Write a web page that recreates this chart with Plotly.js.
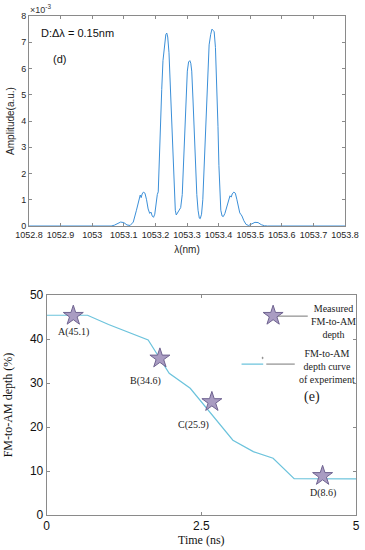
<!DOCTYPE html>
<html><head><meta charset="utf-8">
<script src="https://cdn.plot.ly/plotly-3.0.1.min.js"></script>
<style>html,body{margin:0;padding:0;background:#fff;}#chart{width:365px;height:550px;}</style>
</head><body><div id="chart"></div>
<script>
// ---- (d) spectrum: wavelength (nm) and amplitude (x1e-3 a.u.) ----
const wavelength = [1052.8,1053.06,1053.07,1053.08,1053.09,1053.10,1053.11,1053.12,1053.13,1053.14,1053.148,1053.152,1053.155,1053.158,1053.162,1053.167,1053.172,1053.177,1053.182,1053.186,1053.19,1053.194,1053.198,1053.202,1053.206,1053.209,1053.212,1053.216,1053.22,1053.224,1053.229,1053.233,1053.236,1053.239,1053.243,1053.247,1053.251,1053.255,1053.259,1053.263,1053.266,1053.27,1053.275,1053.28,1053.285,1053.289,1053.293,1053.297,1053.301,1053.305,1053.309,1053.312,1053.315,1053.319,1053.323,1053.327,1053.331,1053.335,1053.339,1053.342,1053.346,1053.35,1053.354,1053.358,1053.362,1053.366,1053.37,1053.375,1053.379,1053.383,1053.386,1053.39,1053.394,1053.398,1053.401,1053.404,1053.407,1053.411,1053.415,1053.42,1053.426,1053.432,1053.436,1053.44,1053.443,1053.448,1053.453,1053.458,1053.463,1053.467,1053.47,1053.474,1053.48,1053.487,1053.495,1053.505,1053.515,1053.525,1053.535,1053.545,1053.555,1053.8];
const amplitude = [0,0,0.03,0.10,0.15,0.13,0.04,0.02,0.15,0.6,1.0,1.18,1.08,1.22,1.29,1.25,1.0,0.65,0.48,0.53,0.38,0.33,0.45,0.9,1.2,1.3,2.5,4.0,5.2,6.3,6.9,7.3,7.35,7.2,6.6,5.4,3.8,2.3,1.2,0.6,0.42,0.5,0.6,0.7,1.2,2.4,3.6,4.8,5.9,6.25,6.3,6.2,5.9,4.8,3.5,2.2,1.2,0.6,0.3,0.28,0.45,1.0,2.2,3.6,5.0,6.3,6.9,7.3,7.5,7.45,7.4,6.8,5.5,3.8,2.3,1.2,0.6,0.38,0.36,0.48,0.75,1.05,1.15,1.1,1.22,1.29,1.25,1.0,0.7,0.5,0.45,0.38,0.2,0.06,0.02,0.08,0.14,0.13,0.05,0.01,0,0];
const wlTickVals = [1052.8,1052.9,1053,1053.1,1053.2,1053.3,1053.4,1053.5,1053.6,1053.7,1053.8];
const wlTickText = ['1052.8','1052.9','1053','1053.1','1053.2','1053.3','1053.4','1053.5','1053.6','1053.7','1053.8'];
const ampTickVals = [0,1,2,3,4,5,6,7,8];

// ---- (e) FM-to-AM depth ----
const timeNs = [0,0.66,1.0,1.64,1.98,2.32,3.01,3.34,3.66,4.0,5.0];
const depthCurve = [45.4,45.4,43.3,39.8,32.2,28.8,17.0,14.4,12.9,8.25,8.2];
const measuredTime = [0.43,1.83,2.67,4.46];
const measuredDepth = [45.3,35.6,25.7,8.9];
const measuredLabels = ['A(45.1)','B(34.6)','C(25.9)','D(8.6)'];
const timeTickVals = [0,2.5,5];
const timeTickText = ['0','2.5','5'];
const depthTickVals = [0,10,20,30,40,50];

const W = 365, H = 550;
const px = x => x / W;
const py = y => 1 - y / H;

const SANS = 'Liberation Sans, Arial, sans-serif';
const SERIF = 'Liberation Serif, Times New Roman, serif';
const starFill = '#a99cc2';
const starLine = '#6f6390';

const traces = [
  {x: wavelength, y: amplitude, type: 'scatter', mode: 'lines', xaxis: 'x', yaxis: 'y',
   line: {color: '#3b8fd8', width: 1}, hoverinfo: 'skip'},
  {x: timeNs, y: depthCurve, type: 'scatter', mode: 'lines', xaxis: 'x2', yaxis: 'y2',
   line: {color: '#6cc3dc', width: 1.2}, hoverinfo: 'skip'},
  {x: measuredTime, y: measuredDepth, type: 'scatter', mode: 'markers', xaxis: 'x2', yaxis: 'y2',
   marker: {symbol: 'star', size: 15, color: starFill, line: {color: starLine, width: 1}}, hoverinfo: 'skip'},
  // legend star symbol
  {x: [3.66], y: [45.3], type: 'scatter', mode: 'markers', xaxis: 'x2', yaxis: 'y2',
   marker: {symbol: 'star', size: 15, color: starFill, line: {color: starLine, width: 1}}, hoverinfo: 'skip'}
];

const axCommon = {
  showline: true, mirror: 'ticks', ticks: 'inside', ticklen: 3, tickwidth: 1,
  showgrid: false, zeroline: false, fixedrange: true, automargin: false
};

const annotations = [
  {xref: 'paper', yref: 'paper', x: px(28), y: py(9), xanchor: 'left', yanchor: 'middle',
   text: '×10<sup>-3</sup>', showarrow: false, font: {family: SANS, size: 9, color: '#333'}},
  {xref: 'paper', yref: 'paper', x: px(39), y: py(33), xanchor: 'left', yanchor: 'middle',
   text: 'D:Δλ = 0.15nm', showarrow: false, font: {family: SANS, size: 11, color: '#111'}},
  {xref: 'paper', yref: 'paper', x: px(51), y: py(59), xanchor: 'left', yanchor: 'middle',
   text: '(d)', showarrow: false, font: {family: SANS, size: 11, color: '#111'}},
  {xref: 'paper', yref: 'paper', x: px(333), y: py(321), xanchor: 'center', yanchor: 'middle',
   text: 'Measured<br>FM-to-AM<br>depth', showarrow: false, align: 'center',
   font: {family: SERIF, size: 10, color: '#222'}},
  {xref: 'paper', yref: 'paper', x: px(327), y: py(366), xanchor: 'center', yanchor: 'middle',
   text: 'FM-to-AM<br>depth curve<br>of experiment', showarrow: false, align: 'center',
   font: {family: SERIF, size: 10, color: '#222'}},
  {xref: 'paper', yref: 'paper', x: px(312), y: py(397), xanchor: 'center', yanchor: 'middle',
   text: '(e)', showarrow: false, font: {family: SERIF, size: 14, color: '#222'}}
];
const labelShift = [[0,-16],[-14,-23],[-18,-23],[0,-17]];
measuredLabels.forEach((t, i) => {
  annotations.push({xref: 'x2', yref: 'y2', x: measuredTime[i], y: measuredDepth[i],
    xshift: labelShift[i][0], yshift: labelShift[i][1], xanchor: 'center', yanchor: 'middle',
    text: t, showarrow: false, font: {family: SERIF, size: 10, color: '#222'}});
});

const shapes = [
  {type: 'line', xref: 'x2', yref: 'y2', x0: 3.74, x1: 4.22, y0: 45.2, y1: 45.2, line: {color: '#777', width: 1}},
  {type: 'line', xref: 'x2', yref: 'y2', x0: 3.15, x1: 3.50, y0: 34.3, y1: 34.3, line: {color: '#6cc3dc', width: 1.2}},
  {type: 'line', xref: 'x2', yref: 'y2', x0: 3.55, x1: 4.01, y0: 34.3, y1: 34.3, line: {color: '#777', width: 1}},
  {type: 'circle', xref: 'x2', yref: 'y2', x0: 3.48, x1: 3.50, y0: 35.5, y1: 35.9, line: {color: '#888', width: 0.5}, fillcolor: '#888'}
];

const layout = {
  width: W, height: H,
  margin: {l: 0, r: 0, t: 0, b: 0},
  paper_bgcolor: '#fff', plot_bgcolor: '#fff',
  showlegend: false,
  xaxis: Object.assign({}, axCommon, {
    domain: [px(29), px(345)], range: [1052.8, 1053.8], anchor: 'y',
    tickvals: wlTickVals, ticktext: wlTickText, linecolor: '#8a8a8a', tickcolor: '#8a8a8a',
    tickfont: {family: SANS, size: 9, color: '#262626'},
    title: {text: 'λ(nm)', font: {family: SANS, size: 10, color: '#262626'}, standoff: 7}
  }),
  yaxis: Object.assign({}, axCommon, {
    domain: [py(226), py(16)], range: [0, 8], anchor: 'x',
    tickvals: ampTickVals, linecolor: '#8a8a8a', tickcolor: '#8a8a8a',
    tickfont: {family: SANS, size: 9, color: '#262626'},
    title: {text: 'Amplitude(a.u.)', font: {family: SANS, size: 10, color: '#262626'}, standoff: 4}
  }),
  xaxis2: Object.assign({}, axCommon, {
    domain: [px(46.7), px(356)], range: [0, 5], anchor: 'y2',
    tickvals: timeTickVals, ticktext: timeTickText, linecolor: '#8a8a8a', tickcolor: '#8a8a8a',
    tickfont: {family: SANS, size: 12, color: '#111'},
    title: {text: 'Time (ns)', font: {family: SERIF, size: 12, color: '#111'}, standoff: 1}
  }),
  yaxis2: Object.assign({}, axCommon, {
    domain: [py(515), py(295)], range: [0, 50], anchor: 'x2',
    tickvals: depthTickVals, linecolor: '#8a8a8a', tickcolor: '#8a8a8a',
    tickfont: {family: SANS, size: 12, color: '#111'},
    title: {text: 'FM-to-AM depth (%)', font: {family: SERIF, size: 12, color: '#111'}, standoff: 14}
  }),
  annotations: annotations,
  shapes: shapes
};

Plotly.newPlot('chart', traces, layout, {staticPlot: true, displayModeBar: false});
</script>
</body></html>
